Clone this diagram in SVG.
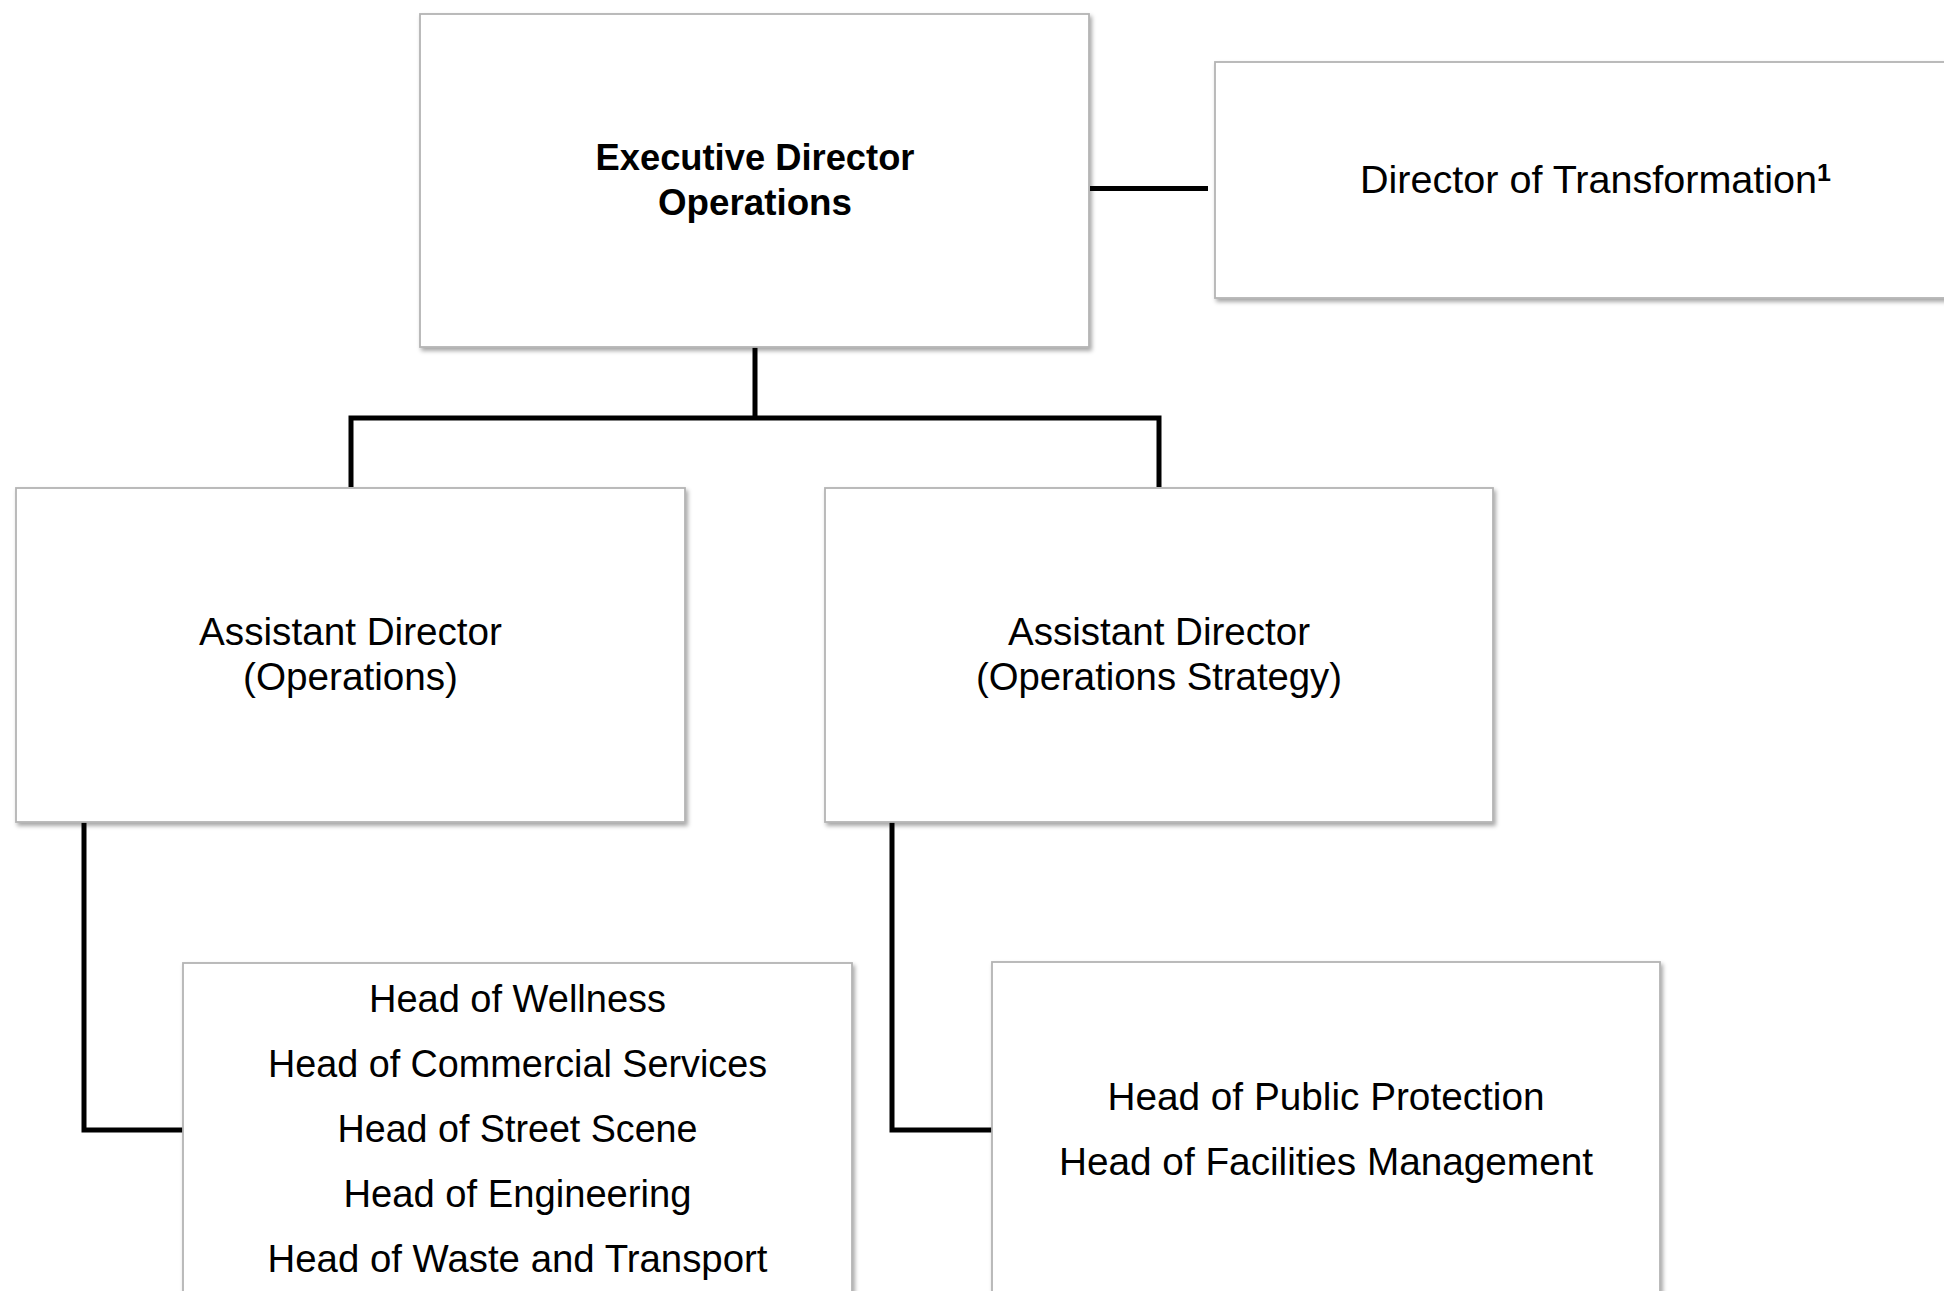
<svg xmlns="http://www.w3.org/2000/svg" width="1944" height="1291" viewBox="0 0 1944 1291">
<defs>
<filter id="sh" x="-5%" y="-5%" width="115%" height="115%">
<feDropShadow dx="2" dy="3" stdDeviation="2" flood-color="#000" flood-opacity="0.35"/>
</filter>
<style>
.box{fill:#fff;stroke:#b4b4b4;stroke-width:1.8;filter:url(#sh)}
.t{font-family:"Liberation Sans",Arial,sans-serif;font-size:38px;fill:#000;text-anchor:middle}
.b{font-weight:bold;font-size:36px}
.sup{font-size:24px;font-weight:bold}
.c{fill:none;stroke:#000;stroke-width:5;stroke-linejoin:miter;stroke-linecap:butt}
</style>
</defs>
<rect width="1944" height="1291" fill="#fff"/>
<g id="connectors">
<path class="c" d="M755,347 V418 M351,487 V418 H1159 V487"/>
<path class="c" d="M1090,188.5 H1208"/>
<path class="c" d="M84,822 V1130 H183"/>
<path class="c" d="M892,822 V1130 H992"/>
</g>
<g id="exec">
<rect class="box" x="420" y="14" width="669" height="333"/>
<text class="t b" x="755" y="170" textLength="319" lengthAdjust="spacingAndGlyphs">Executive Director</text>
<text class="t b" x="755" y="215" textLength="194" lengthAdjust="spacingAndGlyphs">Operations</text>
</g>
<g id="transformation">
<rect class="box" x="1215" y="62" width="780" height="236"/>
<text class="t" x="1595.5" y="193" textLength="471" lengthAdjust="spacingAndGlyphs">Director of Transformation<tspan class="sup" dy="-12">1</tspan></text>
</g>
<g id="ad-operations">
<rect class="box" x="16" y="488" width="669" height="334"/>
<text class="t" x="350.5" y="645" textLength="303" lengthAdjust="spacingAndGlyphs">Assistant Director</text>
<text class="t" x="350.5" y="690" textLength="215" lengthAdjust="spacingAndGlyphs">(Operations)</text>
</g>
<g id="ad-strategy">
<rect class="box" x="825" y="488" width="668" height="334"/>
<text class="t" x="1159" y="645" textLength="302" lengthAdjust="spacingAndGlyphs">Assistant Director</text>
<text class="t" x="1159" y="690" textLength="366" lengthAdjust="spacingAndGlyphs">(Operations Strategy)</text>
</g>
<g id="heads-operations">
<rect class="box" x="183" y="963" width="669" height="360"/>
<text class="t" x="517.5" y="1011.5" textLength="297" lengthAdjust="spacingAndGlyphs">Head of Wellness</text>
<text class="t" x="517.5" y="1076.5" textLength="499" lengthAdjust="spacingAndGlyphs">Head of Commercial Services</text>
<text class="t" x="517.5" y="1141.5" textLength="360" lengthAdjust="spacingAndGlyphs">Head of Street Scene</text>
<text class="t" x="517.5" y="1206.5" textLength="348" lengthAdjust="spacingAndGlyphs">Head of Engineering</text>
<text class="t" x="517.5" y="1271.5" textLength="500" lengthAdjust="spacingAndGlyphs">Head of Waste and Transport</text>
</g>
<g id="heads-strategy">
<rect class="box" x="992" y="962" width="668" height="360"/>
<text class="t" x="1326" y="1110" textLength="437" lengthAdjust="spacingAndGlyphs">Head of Public Protection</text>
<text class="t" x="1326" y="1175" textLength="534" lengthAdjust="spacingAndGlyphs">Head of Facilities Management</text>
</g>
</svg>
